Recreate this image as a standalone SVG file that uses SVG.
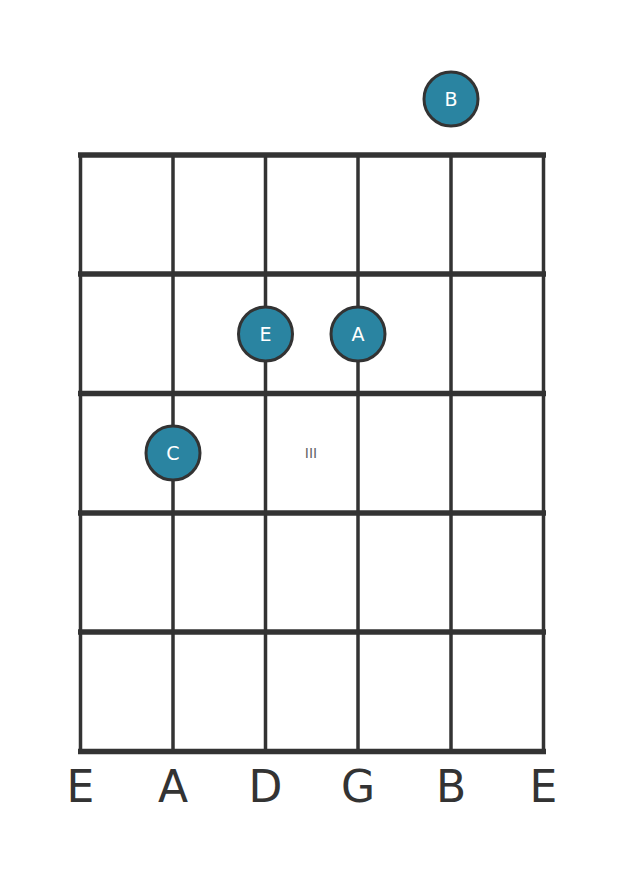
<svg xmlns="http://www.w3.org/2000/svg" width="626" height="873" viewBox="0 0 626 873">
<style>
.fret{stroke:#333;stroke-width:5.5;fill:none}
.str{stroke:#333;stroke-width:3.5;fill:none}
.dot circle{fill:#2a84a1;stroke:#333;stroke-width:3}
.dot text{fill:#fff;font-family:"DejaVu Sans",sans-serif;font-size:19px;text-anchor:middle;dominant-baseline:central}
.lbl{fill:#333;font-family:"DejaVu Sans",sans-serif;font-size:44px;text-anchor:middle}
.pos{fill:#666;font-family:"DejaVu Sans",sans-serif;font-size:14px;text-anchor:middle;dominant-baseline:central}
</style>
<rect width="626" height="873" fill="#fff"/>
<g id="grid">
<line class="str" x1="80.5" y1="155" x2="80.5" y2="751.5"/>
<line class="str" x1="173" y1="155" x2="173" y2="751.5"/>
<line class="str" x1="265.5" y1="155" x2="265.5" y2="751.5"/>
<line class="str" x1="358" y1="155" x2="358" y2="751.5"/>
<line class="str" x1="451" y1="155" x2="451" y2="751.5"/>
<line class="str" x1="543.5" y1="155" x2="543.5" y2="751.5"/>
<line class="fret" x1="78" y1="155" x2="546" y2="155"/>
<line class="fret" x1="78" y1="274" x2="546" y2="274"/>
<line class="fret" x1="78" y1="393.5" x2="546" y2="393.5"/>
<line class="fret" x1="78" y1="513" x2="546" y2="513"/>
<line class="fret" x1="78" y1="632" x2="546" y2="632"/>
<line class="fret" x1="78" y1="751.5" x2="546" y2="751.5"/>
</g>
<text class="pos" x="311" y="453">III</text>
<g id="note-B" class="dot"><circle cx="451" cy="99" r="27"/><text x="451" y="99">B</text></g>
<g id="note-E" class="dot"><circle cx="265.5" cy="334" r="27"/><text x="265.5" y="334">E</text></g>
<g id="note-A" class="dot"><circle cx="358" cy="334" r="27"/><text x="358" y="334">A</text></g>
<g id="note-C" class="dot"><circle cx="173" cy="453" r="27"/><text x="173" y="453">C</text></g>
<g id="labels">
<text class="lbl" x="80.5" y="802">E</text>
<text class="lbl" x="173" y="802">A</text>
<text class="lbl" x="265.5" y="802">D</text>
<text class="lbl" x="358" y="802">G</text>
<text class="lbl" x="451" y="802">B</text>
<text class="lbl" x="543.5" y="802">E</text>
</g>
</svg>
